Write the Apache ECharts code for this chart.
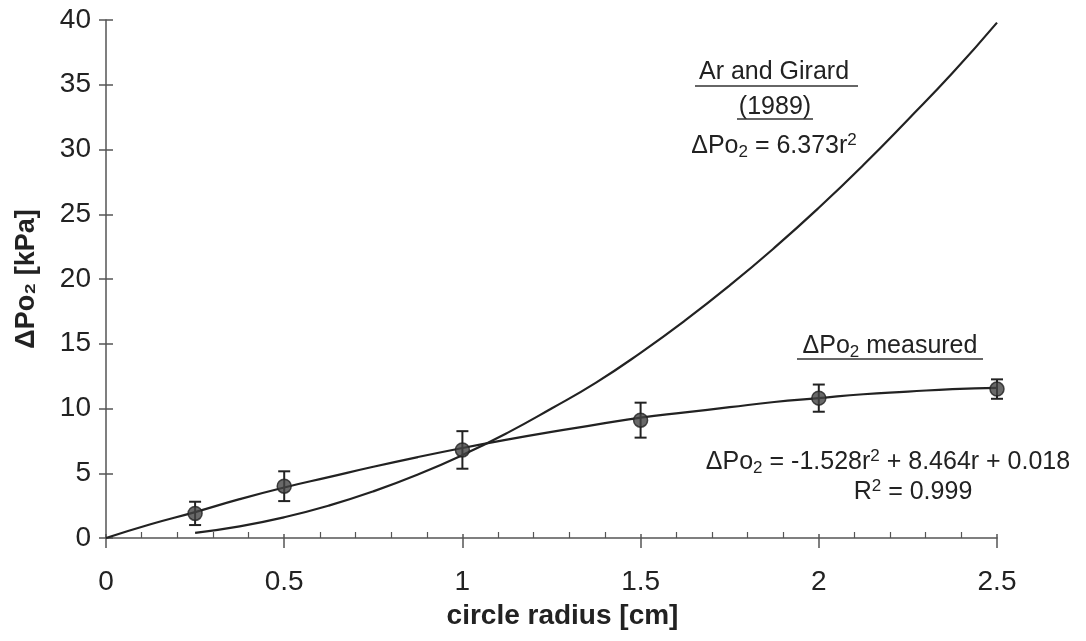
<!DOCTYPE html>
<html>
<head>
<meta charset="utf-8">
<script src="https://cdn.jsdelivr.net/npm/echarts@6/dist/echarts.min.js"></script>
<style>html,body{margin:0;padding:0;background:#fff}#c{width:1086px;height:641px}</style>
</head>
<body>
<div id="c"></div>
<script>
// measured points
const radius = [0.25, 0.5, 1.0, 1.5, 2.0, 2.5];
const measured = [1.9, 4.0, 6.8, 9.1, 10.8, 11.5];
const errBar = [0.9, 1.15, 1.45, 1.35, 1.05, 0.75];
// fitted curve through measured
const fitR = [0, 0.125, 0.25, 0.375, 0.5, 0.625, 0.75, 0.875, 1.0, 1.125, 1.25, 1.375, 1.5, 1.625, 1.75, 1.875, 2.0, 2.125, 2.25, 2.375, 2.5];
const fitY = [0, 1.06, 2.0, 3.0, 3.9, 4.7, 5.5, 6.25, 6.95, 7.6, 8.2, 8.75, 9.3, 9.7, 10.1, 10.5, 10.8, 11.1, 11.3, 11.5, 11.6];
// Ar and Girard (1989) curve
const agR = [0.25, 0.375, 0.5, 0.625, 0.75, 0.875, 1.0, 1.125, 1.25, 1.375, 1.5, 1.625, 1.75, 1.875, 2.0, 2.125, 2.25, 2.375, 2.5];
const agY = [0.4, 0.9, 1.6, 2.5, 3.6, 4.9, 6.4, 8.1, 10.0, 12.0, 14.3, 16.8, 19.5, 22.4, 25.5, 28.8, 32.3, 35.9, 39.8];
const xTicks = [0, 0.5, 1, 1.5, 2, 2.5];
const yTicks = [0, 5, 10, 15, 20, 25, 30, 35, 40];

const FONT = '"Liberation Sans", Arial, sans-serif';
const chart = echarts.init(document.getElementById('c'));
const axisLine = {show: true, lineStyle: {color: '#555', width: 1.5}};
const labelStyle = {fontFamily: FONT, fontSize: 28, color: '#222'};

const FS = 25;
const rich = {
  n: {fontFamily: FONT, fontSize: FS, color: '#222'},
  sub: {fontFamily: FONT, fontSize: 17, color: '#222', verticalAlign: 'bottom', padding: [12, 0, 0, 0]},
  sup: {fontFamily: FONT, fontSize: 17, color: '#222', verticalAlign: 'top', padding: [0, 0, 11, 0]}
};
function txt(x, y, text) {
  return {type: 'text', x: x, y: y, style: {text: text, rich: rich, fill: '#222', font: FS + 'px ' + FONT, align: 'center', verticalAlign: 'middle'}};
}
function uline(x1, x2, y) {
  return {type: 'line', shape: {x1: x1, y1: y, x2: x2, y2: y}, style: {stroke: '#333', lineWidth: 1.6}};
}

chart.setOption({
  backgroundColor: '#fff',
  animation: false,
  grid: {left: 106, right: 89, top: 20, bottom: 103},
  xAxis: [{
    type: 'value', min: 0, max: 2.5, interval: 0.5,
    name: 'circle radius [cm]', nameLocation: 'middle', nameGap: 64,
    nameTextStyle: {fontFamily: FONT, fontSize: 28, fontWeight: 'bold', color: '#222', padding: [0, 0, 0, 22]},
    axisLine: axisLine,
    axisTick: {show: true, inside: false, length: 10, lineStyle: {color: '#555', width: 1.5}},
    axisLabel: Object.assign({margin: 30, formatter: v => String(v)}, labelStyle),
    splitLine: {show: false}
  }, {
    type: 'value', min: 0, max: 2.5, interval: 0.5, position: 'bottom',
    axisLine: {show: false},
    axisTick: {show: true, inside: true, length: 4, lineStyle: {color: '#555', width: 1.5}},
    minorTick: {show: true, splitNumber: 5, length: 6, lineStyle: {color: '#555', width: 1.2}},
    axisLabel: {show: false}, splitLine: {show: false}
  }],
  yAxis: [{
    type: 'value', min: 0, max: 40, interval: 5,
    name: 'ΔPo₂ [kPa]', nameLocation: 'middle', nameGap: 66,
    nameTextStyle: {fontFamily: FONT, fontSize: 27, fontWeight: 'bold', color: '#222'},
    axisLine: axisLine,
    axisTick: {show: true, inside: false, length: 7, lineStyle: {color: '#555', width: 1.5}},
    axisLabel: Object.assign({margin: 15}, labelStyle),
    splitLine: {show: false}
  }, {
    type: 'value', min: 0, max: 40, interval: 5, position: 'left',
    axisLine: {show: false},
    axisTick: {show: true, inside: true, length: 7, lineStyle: {color: '#555', width: 1.5}},
    axisLabel: {show: false}, splitLine: {show: false}
  }],
  series: [{
    type: 'line', name: 'fit', smooth: true, showSymbol: false,
    data: fitR.map((r, i) => [r, fitY[i]]),
    lineStyle: {color: '#222', width: 2.2}, z: 2
  }, {
    type: 'line', name: 'Ar and Girard', smooth: true, showSymbol: false,
    data: agR.map((r, i) => [r, agY[i]]),
    lineStyle: {color: '#222', width: 2.2}, z: 2
  }, {
    type: 'custom', name: 'err',
    data: radius.map((r, i) => [r, measured[i] - errBar[i], measured[i] + errBar[i]]),
    renderItem: function (params, api) {
      const lo = api.coord([api.value(0), api.value(1)]);
      const hi = api.coord([api.value(0), api.value(2)]);
      const w = 6;
      const st = {stroke: '#222', lineWidth: 2};
      return {type: 'group', children: [
        {type: 'line', shape: {x1: lo[0], y1: lo[1], x2: hi[0], y2: hi[1]}, style: st},
        {type: 'line', shape: {x1: lo[0] - w, y1: lo[1], x2: lo[0] + w, y2: lo[1]}, style: st},
        {type: 'line', shape: {x1: hi[0] - w, y1: hi[1], x2: hi[0] + w, y2: hi[1]}, style: st}
      ]};
    }, z: 3
  }, {
    type: 'scatter', name: 'measured',
    data: radius.map((r, i) => [r, measured[i]]),
    symbol: 'circle', symbolSize: 14,
    itemStyle: {color: '#444', borderColor: '#222', borderWidth: 1.5}, z: 4
  }],
  graphic: [
    txt(774, 72, '{n|Ar and Girard}'),
    uline(695, 858, 86),
    txt(775, 107, '{n|(1989)}'),
    uline(737, 813, 119),
    txt(774, 146, '{n|ΔPo}{sub|2}{n| = 6.373r}{sup|2}'),
    txt(890, 346, '{n|ΔPo}{sub|2}{n| measured}'),
    uline(797, 983, 359),
    txt(888, 462, '{n|ΔPo}{sub|2}{n| = -1.528r}{sup|2}{n| + 8.464r + 0.018}'),
    txt(913, 492, '{n|R}{sup|2}{n| = 0.999}')
  ]
});
</script>
</body>
</html>
